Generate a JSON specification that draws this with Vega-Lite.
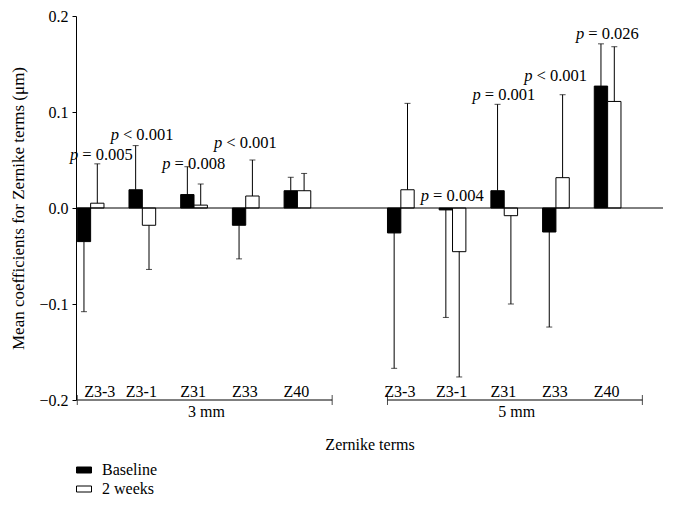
{
  "$schema": "https://vega.github.io/schema/vega-lite/v6.json",
  "width": 587,
  "height": 384,
  "autosize": {"type": "none"},
  "padding": {"left": 76, "top": 16, "right": 10, "bottom": 106},
  "background": "white",
  "config": {
    "view": {"stroke": null},
    "font": "Liberation Serif",
    "axis": {"labelFont": "Liberation Serif", "titleFont": "Liberation Serif", "labelColor": "black", "titleColor": "black", "domainColor": "black", "tickColor": "black", "grid": false, "titleFontWeight": "normal"},
    "text": {"font": "Liberation Serif", "fontSize": 16, "color": "black"}
  },
  "datasets": {
    "bars": [
      {"slot": "3 mm|Z3-3", "term": "Z3-3", "series": "Baseline", "value": -0.035, "err": -0.108},
      {"slot": "3 mm|Z3-3", "term": "Z3-3", "series": "2 weeks", "value": 0.005, "err": 0.046},
      {"slot": "3 mm|Z3-1", "term": "Z3-1", "series": "Baseline", "value": 0.019, "err": 0.065},
      {"slot": "3 mm|Z3-1", "term": "Z3-1", "series": "2 weeks", "value": -0.018, "err": -0.064},
      {"slot": "3 mm|Z31", "term": "Z31", "series": "Baseline", "value": 0.014, "err": 0.043},
      {"slot": "3 mm|Z31", "term": "Z31", "series": "2 weeks", "value": 0.003, "err": 0.025},
      {"slot": "3 mm|Z33", "term": "Z33", "series": "Baseline", "value": -0.018, "err": -0.053},
      {"slot": "3 mm|Z33", "term": "Z33", "series": "2 weeks", "value": 0.0125, "err": 0.05},
      {"slot": "3 mm|Z40", "term": "Z40", "series": "Baseline", "value": 0.018, "err": 0.032},
      {"slot": "3 mm|Z40", "term": "Z40", "series": "2 weeks", "value": 0.018, "err": 0.036},
      {"slot": "5 mm|Z3-3", "term": "Z3-3", "series": "Baseline", "value": -0.026, "err": -0.167},
      {"slot": "5 mm|Z3-3", "term": "Z3-3", "series": "2 weeks", "value": 0.019, "err": 0.109},
      {"slot": "5 mm|Z3-1", "term": "Z3-1", "series": "Baseline", "value": -0.002, "err": -0.114},
      {"slot": "5 mm|Z3-1", "term": "Z3-1", "series": "2 weeks", "value": -0.0455, "err": -0.176},
      {"slot": "5 mm|Z31", "term": "Z31", "series": "Baseline", "value": 0.018, "err": 0.108},
      {"slot": "5 mm|Z31", "term": "Z31", "series": "2 weeks", "value": -0.008, "err": -0.1},
      {"slot": "5 mm|Z33", "term": "Z33", "series": "Baseline", "value": -0.025, "err": -0.124},
      {"slot": "5 mm|Z33", "term": "Z33", "series": "2 weeks", "value": 0.0316, "err": 0.118},
      {"slot": "5 mm|Z40", "term": "Z40", "series": "Baseline", "value": 0.127, "err": 0.171},
      {"slot": "5 mm|Z40", "term": "Z40", "series": "2 weeks", "value": 0.111, "err": 0.168}
    ],
    "plabels": [
      {"slot": "3 mm|Z3-3", "p": "p", "rest": "= 0.005", "ylab": 0.055},
      {"slot": "3 mm|Z3-1", "p": "p", "rest": "< 0.001", "ylab": 0.076},
      {"slot": "3 mm|Z31", "p": "p", "rest": "= 0.008", "ylab": 0.046},
      {"slot": "3 mm|Z33", "p": "p", "rest": "< 0.001", "ylab": 0.068},
      {"slot": "5 mm|Z3-1", "p": "p", "rest": "= 0.004", "ylab": 0.0125},
      {"slot": "5 mm|Z31", "p": "p", "rest": "= 0.001", "ylab": 0.118},
      {"slot": "5 mm|Z33", "p": "p", "rest": "< 0.001", "ylab": 0.1375},
      {"slot": "5 mm|Z40", "p": "p", "rest": "= 0.026", "ylab": 0.181}
    ],
    "groups": [
      {"group": "3 mm", "from": "3 mm|Z3-3", "mid": "3 mm|Z31", "to": "3 mm|Z40"},
      {"group": "5 mm", "from": "5 mm|Z3-3", "mid": "5 mm|Z31", "to": "5 mm|Z40"}
    ]
  },
  "layer": [
    {
      "data": {"name": "bars"},
      "mark": {"type": "bar", "stroke": "black", "strokeWidth": 1},
      "encoding": {
        "x": {
          "field": "slot", "type": "nominal", "title": "Zernike terms",
          "scale": {"type": "band", "domain": ["3 mm|Z3-3", "3 mm|Z3-1", "3 mm|Z31", "3 mm|Z33", "3 mm|Z40", "gap", "5 mm|Z3-3", "5 mm|Z3-1", "5 mm|Z31", "5 mm|Z33", "5 mm|Z40"], "paddingInner": 0, "paddingOuter": 0.177, "align": 0.07},
          "axis": {"title": "Zernike terms", "labels": false, "ticks": false, "domain": false, "titlePadding": 36, "titleFontSize": 16}
        },
        "xOffset": {"field": "series", "type": "nominal", "scale": {"domain": ["Baseline", "2 weeks"], "range": [0, 26.7], "paddingInner": 0, "paddingOuter": 0}},
        "y": {
          "field": "value", "type": "quantitative", "title": "Mean coefficients for Zernike terms (μm)",
          "scale": {"domain": [-0.2, 0.2], "nice": false},
          "axis": {"title": "Mean coefficients for Zernike terms (μm)", "values": [-0.2, -0.1, 0, 0.1, 0.2], "format": ".1f", "labelFontSize": 16, "titleFontSize": 17, "tickSize": 4, "labelPadding": 4, "titlePadding": 11}
        },
        "fill": {
          "field": "series", "type": "nominal",
          "scale": {"domain": ["Baseline", "2 weeks"], "range": ["black", "white"]},
          "legend": {"orient": "none", "legendX": 0, "legendY": 446, "title": null, "padding": 0, "symbolType": "M-1,-0.4H1V0.4H-1Z", "symbolSize": 225, "symbolStrokeColor": "black", "symbolStrokeWidth": 1, "labelFont": "Liberation Serif", "labelFontSize": 16, "labelColor": "black", "labelOffset": 10, "rowPadding": 3}
        }
      }
    },
    {
      "data": {"name": "bars"},
      "mark": {"type": "rule", "color": "black", "strokeWidth": 1},
      "encoding": {
        "x": {"field": "slot", "type": "nominal", "title": "Zernike terms"},
        "xOffset": {"field": "series", "type": "nominal"},
        "y": {"field": "value", "type": "quantitative", "title": "Mean coefficients for Zernike terms (μm)"},
        "y2": {"field": "err"}
      }
    },
    {
      "data": {"name": "bars"},
      "mark": {"type": "tick", "orient": "horizontal", "size": 6, "thickness": 1, "color": "black"},
      "encoding": {
        "x": {"field": "slot", "type": "nominal", "title": "Zernike terms"},
        "xOffset": {"field": "series", "type": "nominal"},
        "y": {"field": "err", "type": "quantitative", "title": "Mean coefficients for Zernike terms (μm)"}
      }
    },
    {
      "data": {"values": [{}]},
      "mark": {"type": "rule", "color": "black", "strokeWidth": 1},
      "encoding": {"y": {"datum": 0, "title": "Mean coefficients for Zernike terms (μm)"}}
    },
    {
      "data": {"name": "bars"},
      "transform": [{"filter": "datum.series == 'Baseline' && datum.slot != '3 mm|Z3-3'"}],
      "mark": {"type": "text", "fontSize": 16, "baseline": "middle", "align": "center", "dy": -8},
      "encoding": {
        "x": {"field": "slot", "type": "nominal", "title": "Zernike terms", "bandPosition": 0.24},
        "y": {"datum": -0.2, "title": "Mean coefficients for Zernike terms (μm)"},
        "text": {"field": "term"}
      }
    },
    {
      "data": {"name": "bars"},
      "transform": [{"filter": "datum.series == 'Baseline' && datum.slot == '3 mm|Z3-3'"}],
      "mark": {"type": "text", "fontSize": 16, "baseline": "middle", "align": "center", "dy": -8, "dx": 10},
      "encoding": {
        "x": {"field": "slot", "type": "nominal", "title": "Zernike terms", "bandPosition": 0.24},
        "y": {"datum": -0.2, "title": "Mean coefficients for Zernike terms (μm)"},
        "text": {"field": "term"}
      }
    },
    {
      "data": {"name": "groups"},
      "mark": {"type": "rule", "color": "black", "strokeWidth": 1},
      "encoding": {
        "x": {"field": "from", "type": "nominal", "title": "Zernike terms", "bandPosition": 0},
        "x2": {"field": "to", "bandPosition": 0.93},
        "y": {"datum": -0.2, "title": "Mean coefficients for Zernike terms (μm)"}
      }
    },
    {
      "data": {"name": "groups"},
      "mark": {"type": "tick", "orient": "vertical", "size": 10, "thickness": 1, "color": "black"},
      "encoding": {
        "x": {"field": "from", "type": "nominal", "title": "Zernike terms", "bandPosition": 0},
        "y": {"datum": -0.2, "title": "Mean coefficients for Zernike terms (μm)"}
      }
    },
    {
      "data": {"name": "groups"},
      "mark": {"type": "tick", "orient": "vertical", "size": 10, "thickness": 1, "color": "black"},
      "encoding": {
        "x": {"field": "to", "type": "nominal", "title": "Zernike terms", "bandPosition": 0.93},
        "y": {"datum": -0.2, "title": "Mean coefficients for Zernike terms (μm)"}
      }
    },
    {
      "data": {"name": "groups"},
      "mark": {"type": "text", "fontSize": 16, "baseline": "middle", "align": "center", "dy": 12},
      "encoding": {
        "x": {"field": "mid", "type": "nominal", "title": "Zernike terms", "bandPosition": 0.5},
        "y": {"datum": -0.2, "title": "Mean coefficients for Zernike terms (μm)"},
        "text": {"field": "group"}
      }
    },
    {
      "data": {"name": "plabels"},
      "transform": [{"filter": "datum.slot != '3 mm|Z3-3'"}],
      "mark": {"type": "text", "fontSize": 16.5, "fontStyle": "italic", "baseline": "middle", "align": "right", "dx": -23},
      "encoding": {
        "x": {"field": "slot", "type": "nominal", "title": "Zernike terms", "bandPosition": 0.25},
        "y": {"field": "ylab", "type": "quantitative", "title": "Mean coefficients for Zernike terms (μm)"},
        "text": {"field": "p"}
      }
    },
    {
      "data": {"name": "plabels"},
      "transform": [{"filter": "datum.slot != '3 mm|Z3-3'"}],
      "mark": {"type": "text", "fontSize": 16.5, "baseline": "middle", "align": "left", "dx": -19},
      "encoding": {
        "x": {"field": "slot", "type": "nominal", "title": "Zernike terms", "bandPosition": 0.25},
        "y": {"field": "ylab", "type": "quantitative", "title": "Mean coefficients for Zernike terms (μm)"},
        "text": {"field": "rest"}
      }
    },
    {
      "data": {"name": "plabels"},
      "transform": [{"filter": "datum.slot == '3 mm|Z3-3'"}],
      "mark": {"type": "text", "fontSize": 16.5, "fontStyle": "italic", "baseline": "middle", "align": "right", "dx": -12},
      "encoding": {
        "x": {"field": "slot", "type": "nominal", "title": "Zernike terms", "bandPosition": 0.25},
        "y": {"field": "ylab", "type": "quantitative", "title": "Mean coefficients for Zernike terms (μm)"},
        "text": {"field": "p"}
      }
    },
    {
      "data": {"name": "plabels"},
      "transform": [{"filter": "datum.slot == '3 mm|Z3-3'"}],
      "mark": {"type": "text", "fontSize": 16.5, "baseline": "middle", "align": "left", "dx": -8},
      "encoding": {
        "x": {"field": "slot", "type": "nominal", "title": "Zernike terms", "bandPosition": 0.25},
        "y": {"field": "ylab", "type": "quantitative", "title": "Mean coefficients for Zernike terms (μm)"},
        "text": {"field": "rest"}
      }
    }
  ]
}
